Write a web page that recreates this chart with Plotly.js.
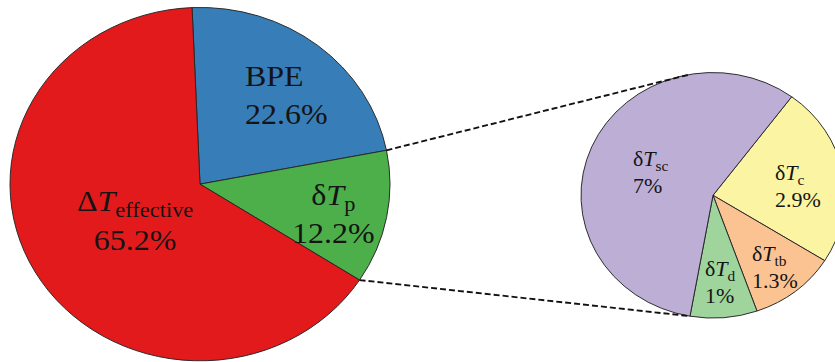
<!DOCTYPE html>
<html>
<head>
<meta charset="utf-8">
<script src="https://cdn.plot.ly/plotly-3.0.1.min.js"></script>
<style>
  html, body { margin: 0; padding: 0; background: #fff; overflow: hidden; width: 835px; height: 362px; }
  /* the figure is laid out at 850x389 and squeezed vertically into the window */
  #chart { width: 850px; height: 389px; transform: scaleY(0.93); transform-origin: 0 0; }
</style>
</head>
<body>
<div id="chart"></div>
<script>
// Breakdown of the overall temperature difference (%)
const mainNames  = ['BPE', 'δ<i>T</i><sub>p</sub>', 'Δ<i>T</i><sub>effective</sub>'];
const mainValues = [22.6, 12.2, 65.2];
const mainColors = ['#377eb8', '#4daf4a', '#e31a1c'];

// Breakdown of δTp into its parts (%)
const detailNames  = ['δ<i>T</i><sub>c</sub>', 'δ<i>T</i><sub>tb</sub>', 'δ<i>T</i><sub>d</sub>', 'δ<i>T</i><sub>sc</sub>'];
const detailValues = [2.9, 1.3, 1, 7];
const detailColors = ['#fbf4a2', '#fcc392', '#9fd49d', '#bdaed6'];

// ---- layout geometry (figure pixels, before the vertical squeeze) ----
const W = 850, H = 389, SQ = 0.93;
const BIG   = { cx: 200, cy: 198, r: 190, rot: -2.4 };
const SMALL = { cx: 713, cy: 210, r: 132, rot: 36.6 };
const TOP_LINK_ANGLE = -10;   // where the upper connector meets the small pie

const px = x => x / W;
const py = y => 1 - y / H;
// window-pixel y (after squeeze) to paper
const wy = y => py(y / SQ);

function domainOf(p) {
  return { x: [px(p.cx - p.r), px(p.cx + p.r)], y: [py(p.cy + p.r), py(p.cy - p.r)] };
}
function pointOn(p, deg) {
  const a = deg * Math.PI / 180;
  return [p.cx + p.r * Math.sin(a), p.cy - p.r * Math.cos(a)];
}
const sum = a => a.reduce((s, v) => s + v, 0);

const serif = 'Liberation Serif, Times New Roman, serif';

const traces = [
  {
    type: 'pie', values: mainValues, labels: mainNames, sort: false,
    direction: 'clockwise', rotation: BIG.rot, domain: domainOf(BIG),
    marker: { colors: mainColors, line: { color: '#262626', width: 1 } },
    textinfo: 'none', hoverinfo: 'skip', showlegend: false
  },
  {
    type: 'pie', values: detailValues, labels: detailNames, sort: false,
    direction: 'clockwise', rotation: SMALL.rot, domain: domainOf(SMALL),
    marker: { colors: detailColors, line: { color: '#262626', width: 1 } },
    textinfo: 'none', hoverinfo: 'skip', showlegend: false
  }
];

// connector lines: edges of the δTp slice to the small pie
const mainTotal = sum(mainValues), detailTotal = sum(detailValues);
const aUpper = BIG.rot + mainValues[0] / mainTotal * 360;
const aLower = aUpper + mainValues[1] / mainTotal * 360;
const aSmallLower = SMALL.rot + sum(detailValues.slice(0, 3)) / detailTotal * 360;

function link(p0, p1) {
  return {
    type: 'line', xref: 'paper', yref: 'paper',
    x0: px(p0[0]), y0: py(p0[1]), x1: px(p1[0]), y1: py(p1[1]),
    line: { color: '#111', width: 2, dash: '6px,3px' }
  };
}
const shapes = [
  link(pointOn(BIG, aUpper), pointOn(SMALL, TOP_LINK_ANGLE)),
  link(pointOn(BIG, aLower), pointOn(SMALL, aSmallLower))
];

// label anchors in window pixels: [x, y, xanchor, align]
const mainLabelPos   = [[243, 95, 'left', 'left'], [333, 214, 'center', 'center'], [135, 220, 'center', 'center']];
const detailLabelPos = [[773, 187, 'left', 'left'], [750, 268, 'left', 'left'], [703, 283, 'left', 'left'], [631, 173, 'left', 'left']];

function labels(names, values, pos, size) {
  return names.map((n, i) => ({
    xref: 'paper', yref: 'paper',
    x: px(pos[i][0]), y: wy(pos[i][1]),
    xanchor: pos[i][2], yanchor: 'middle', align: pos[i][3],
    text: n + '<br>' + values[i] + '%',
    showarrow: false,
    font: { family: serif, size: size, color: '#141414' }
  }));
}

const layout = {
  width: W, height: H, autosize: false,
  margin: { l: 0, r: 0, t: 0, b: 0 },
  paper_bgcolor: '#fff', plot_bgcolor: '#fff',
  showlegend: false,
  shapes: shapes,
  annotations: labels(mainNames, mainValues, mainLabelPos, 32)
    .concat(labels(detailNames, detailValues, detailLabelPos, 22))
};

Plotly.newPlot('chart', traces, layout, { displayModeBar: false, staticPlot: true });
</script>
</body>
</html>
